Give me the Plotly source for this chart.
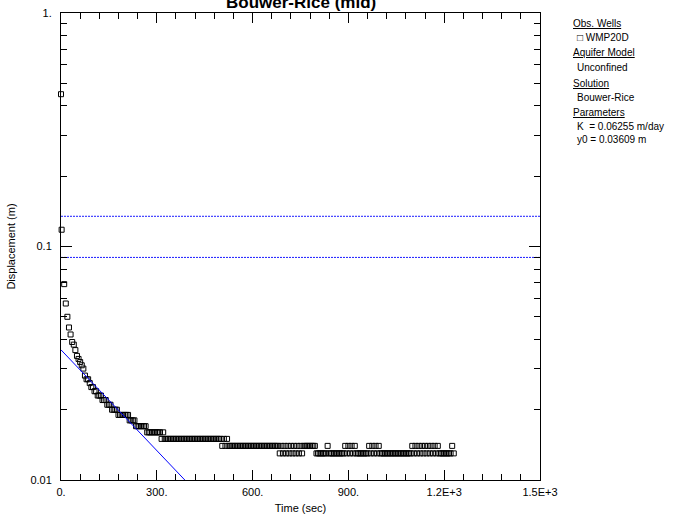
import numpy as np
import plotly.graph_objects as go

# ---- observed recovery, well WMP20D ----
# first two readings right after the slug is introduced
time_early = [0, 2]
disp_early = [0.449, 0.118]

# logger readings every 5 s afterwards (displacement resolution 0.001 m)
time_logged = list(range(10, 1235, 5))
disp_logged = (
    [0.069, 0.057, 0.050, 0.045, 0.042, 0.039, 0.038, 0.036, 0.034, 0.033,
     0.032, 0.031, 0.030, 0.028, 0.027, 0.027, 0.026, 0.025, 0.025, 0.024,
     0.024, 0.023, 0.023, 0.023, 0.022, 0.022, 0.022, 0.021, 0.021, 0.021]
    + [0.020] * 4 + [0.019] * 7 + [0.018] * 4 + [0.017] * 7 + [0.016] * 9
    + [0.015, 0.016, 0.015]
    + [0.015] * 35
    + [0.014, 0.015, 0.014, 0.015, 0.014]
    + [0.014] * 31
    + [0.013, 0.014] * 8
    + [0.014] * 7
    + [0.013] * 7 + [0.014] + [0.013] * 10
    + [0.014, 0.013, 0.014, 0.013, 0.014, 0.013, 0.014]
    + [0.013] * 8
    + [0.014, 0.013, 0.014, 0.013, 0.014, 0.013, 0.014]
    + [0.013] * 20
    + [0.014, 0.013] * 8 + [0.014]
    + [0.013] * 8 + [0.014, 0.013]
)
assert len(time_logged) == len(disp_logged)

obs_time = time_early + time_logged
obs_disp = disp_early + disp_logged

# ---- Bouwer-Rice fit ----
y0_fit = 0.03609          # m
decay_rate = 0.00331      # 1/s, slope of ln(y) vs t
h0 = 0.449                # initial displacement, m
guide_fractions = [0.2, 0.3]   # recommended fitting window (fraction of H0)

x_ticks = [0, 300, 600, 900, 1200, 1500]
x_tick_text = ["0.", "300.", "600.", "900.", "1.2E+3", "1.5E+3"]
x_minor = [v for v in range(60, 1500, 60) if v % 300]
y_ticks = [0.01, 0.1, 1.0]
y_tick_text = ["0.01", "0.1", "1."]
y_minor = [m * d for d in (0.01, 0.1) for m in range(2, 10)]

FONT = "Liberation Sans, Arial, sans-serif"

t_model = np.linspace(0, 450, 46)
y_model = y0_fit * np.exp(-decay_rate * t_model)

fig = go.Figure()

for frac in guide_fractions:
    fig.add_trace(go.Scatter(
        x=[0, 1500], y=[frac * h0] * 2, mode="lines",
        line=dict(color="#1a1aff", width=1, dash="2px,1px"),
        showlegend=False, hoverinfo="skip"))

fig.add_trace(go.Scatter(
    x=obs_time, y=obs_disp, mode="markers", name="WMP20D",
    marker=dict(symbol="square-open", size=5, color="black",
                line=dict(width=1, color="black")),
    showlegend=False, cliponaxis=False))

fig.add_trace(go.Scatter(
    x=t_model, y=y_model, mode="lines",
    line=dict(color="#0000ff", width=1),
    showlegend=False, hoverinfo="skip"))

axis_common = dict(
    showline=True, linecolor="black", linewidth=1, mirror="allticks",
    showgrid=False, zeroline=False, ticks="inside", tickcolor="black",
    tickwidth=1, tickfont=dict(family=FONT, size=11, color="black"),
    automargin=False,
)

fig.update_xaxes(
    range=[0, 1500], tickmode="array", tickvals=x_ticks, ticktext=x_tick_text,
    ticklen=10, ticklabelstandoff=2,
    minor=dict(tickmode="array", tickvals=x_minor, ticks="inside",
               ticklen=6, tickcolor="black", showgrid=False),
    title=dict(text="Time (sec)", font=dict(family=FONT, size=11, color="black"),
               standoff=7),
    **axis_common)

fig.update_yaxes(
    type="log", range=[-2, 0], tickmode="array", tickvals=y_ticks,
    ticktext=y_tick_text, ticklen=11, ticklabelstandoff=6,
    minor=dict(tickmode="array", tickvals=y_minor, ticks="inside",
               ticklen=6, tickcolor="black", showgrid=False),
    title=dict(text="Displacement (m)",
               font=dict(family=FONT, size=11, color="black"), standoff=12),
    **axis_common)

# title sits at the very top edge of the page
fig.add_annotation(
    text="<b>Bouwer-Rice (mid)</b>", xref="paper", yref="paper",
    x=0.5, y=1 - 1 / 467, xanchor="center", yanchor="bottom", showarrow=False,
    font=dict(family=FONT, size=17, color="black"))

# side panel with well, model and fitted parameters
panel = [
    ("<u>Obs. Wells</u>", 0, 23),
    ("\u25a1 WMP20D", 4, 37),
    ("<u>Aquifer Model</u>", 0, 52),
    ("Unconfined", 4, 66),
    ("<u>Solution</u>", 0, 82),
    ("Bouwer-Rice", 4, 96),
    ("<u>Parameters</u>", 0, 111),
    ("K  = 0.06255 m/day", 4, 125),
    ("y0 = 0.03609 m", 4, 138),
]
left, top, plot_w, plot_h = 61, 13, 479, 467
for text, indent, ypx in panel:
    fig.add_annotation(
        text=text, xref="paper", yref="paper",
        x=(571 + indent - left) / plot_w, y=1 - (ypx + 1 - top) / plot_h,
        xanchor="left", yanchor="middle", showarrow=False,
        font=dict(family=FONT, size=10, color="black"))

fig.update_layout(
    width=677, height=521,
    margin=dict(l=left, r=677 - left - plot_w, t=top, b=521 - top - plot_h),
    paper_bgcolor="white", plot_bgcolor="white",
    font=dict(family=FONT, size=11, color="black"),
)

fig.write_html("out.html")
